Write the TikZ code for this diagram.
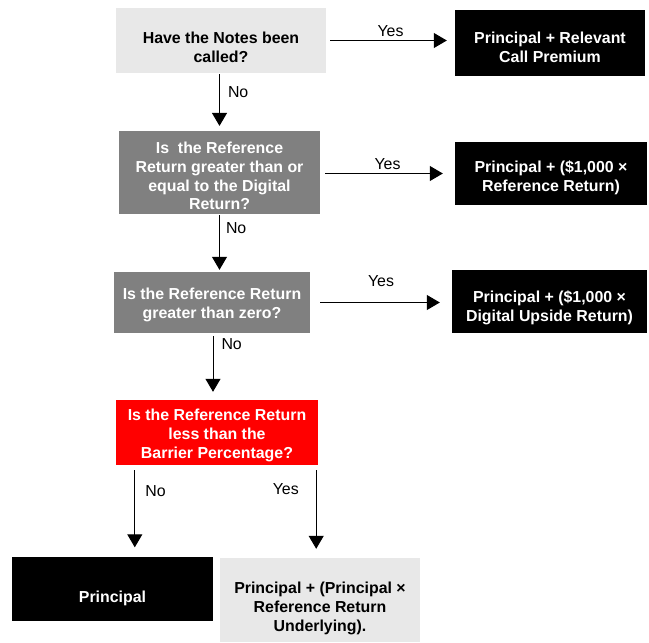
\documentclass[tikz,border=0pt]{standalone}
\usepackage{fontspec}
\setmainfont{Liberation Sans}
\usetikzlibrary{arrows.meta, positioning, calc}

\definecolor{lightbox}{HTML}{E8E8E8}
\definecolor{midbox}{HTML}{808080}
\definecolor{redbox}{HTML}{FF0000}

% struts to set where the text sits in a box
\newcommand{\topgap}[1]{\rule{0pt}{#1}}
\newcommand{\botgap}{\rule[-4pt]{0pt}{4pt}}

\begin{document}
\begin{tikzpicture}[x=1pt,y=-1pt,
  box/.style={rectangle, inner sep=0pt, align=center, font=\fontsize{15.9}{18.8}\selectfont\bfseries},
  ask/.style={box, text=white},
  pay/.style={box, fill=black, text=white},
  lbl/.style={font=\fontsize{15.9}{18.8}\selectfont, inner sep=2pt},
  arr/.style={-{Triangle[length=13pt,width=15pt]}, line width=1pt}]
\useasboundingbox (0,0) rectangle (649,643);

% questions
\node[box, fill=lightbox, minimum width=210pt, minimum height=65pt] (called) at (221,40.5) {\topgap{28.8pt}Have the Notes been\\called?\botgap};
\node[ask, fill=midbox, minimum width=201pt, minimum height=79pt] (digital) at (219.5,172.5) {\topgap{22.4pt}Is\ \ the Reference\\Return greater than or\\equal to the Digital\\Return?\botgap};
\node[ask, fill=midbox, minimum width=196pt, minimum height=61pt] (zero) at (212,302.5) {\topgap{16.8pt}Is the Reference Return\\greater than zero?\botgap};
\node[ask, fill=redbox, minimum width=202pt, minimum height=65pt] (barrier) at (217,432.5) {\topgap{17.6pt}Is the Reference Return\\less than the\\Barrier Percentage?\botgap};

% payouts
\node[pay, minimum width=190pt, minimum height=66pt] (premium) at (550,43) {\topgap{23.8pt}Principal + Relevant\\Call Premium\botgap};
\node[pay, minimum width=192pt, minimum height=63pt] (refret) at (551,173.5) {\topgap{20.8pt}Principal + (\$1,000 ×\\Reference Return)\botgap};
\node[pay, minimum width=195pt, minimum height=63pt] (upside) at (549.5,301.5) {\topgap{24.8pt}Principal + (\$1,000 ×\\Digital Upside Return)\botgap};
\node[pay, minimum width=201pt, minimum height=64pt] (principal) at (112.5,588.5) {\topgap{32pt}Principal\botgap};
\node[box, fill=lightbox, minimum width=200pt, minimum height=84pt] (loss) at (320,600) {\topgap{28.6pt}Principal + (Principal ×\\Reference Return\\Underlying).\botgap};

% yes
\draw[arr, shorten <=4pt, shorten >=8pt] (called.east) -- (called.east -| premium.west) node[lbl, midway, above=1pt] {Yes};
\draw[arr, shorten <=5pt, shorten >=12pt] (digital.east |- refret.west) -- (refret.west) node[lbl, midway, above=1pt] {Yes};
\draw[arr, shorten <=10pt, shorten >=12pt] (zero.east) -- (zero.east -| upside.west) node[lbl, pos=0.5, above=13pt] {Yes};

% no
\draw[arr, shorten <=1pt, shorten >=5pt] (called.south -| digital.north) -- (digital.north) node[lbl, pos=0.32, right=6pt] {No};
\draw[arr, shorten <=1pt, shorten >=2pt] (digital.south) -- (digital.south |- zero.north) node[lbl, pos=0.25, right=4pt] {No};
\draw[arr, shorten <=3pt, shorten >=8pt] (zero.south -| 213,0) -- (barrier.north -| 213,0) node[lbl, pos=0.17, right=6pt] {No};

% last step
\draw[arr, shorten <=5pt, shorten >=9pt] ([xshift=19pt]barrier.south west) -- ([xshift=19pt]barrier.south west |- principal.north) node[lbl, pos=0.28, right=8pt] {No};
\draw[arr, shorten <=5pt, shorten >=9pt] ([xshift=-2pt]barrier.south east) -- ([xshift=-2pt]barrier.south east |- loss.north) node[lbl, pos=0.26, left=15pt] {Yes};
\end{tikzpicture}
\end{document}
